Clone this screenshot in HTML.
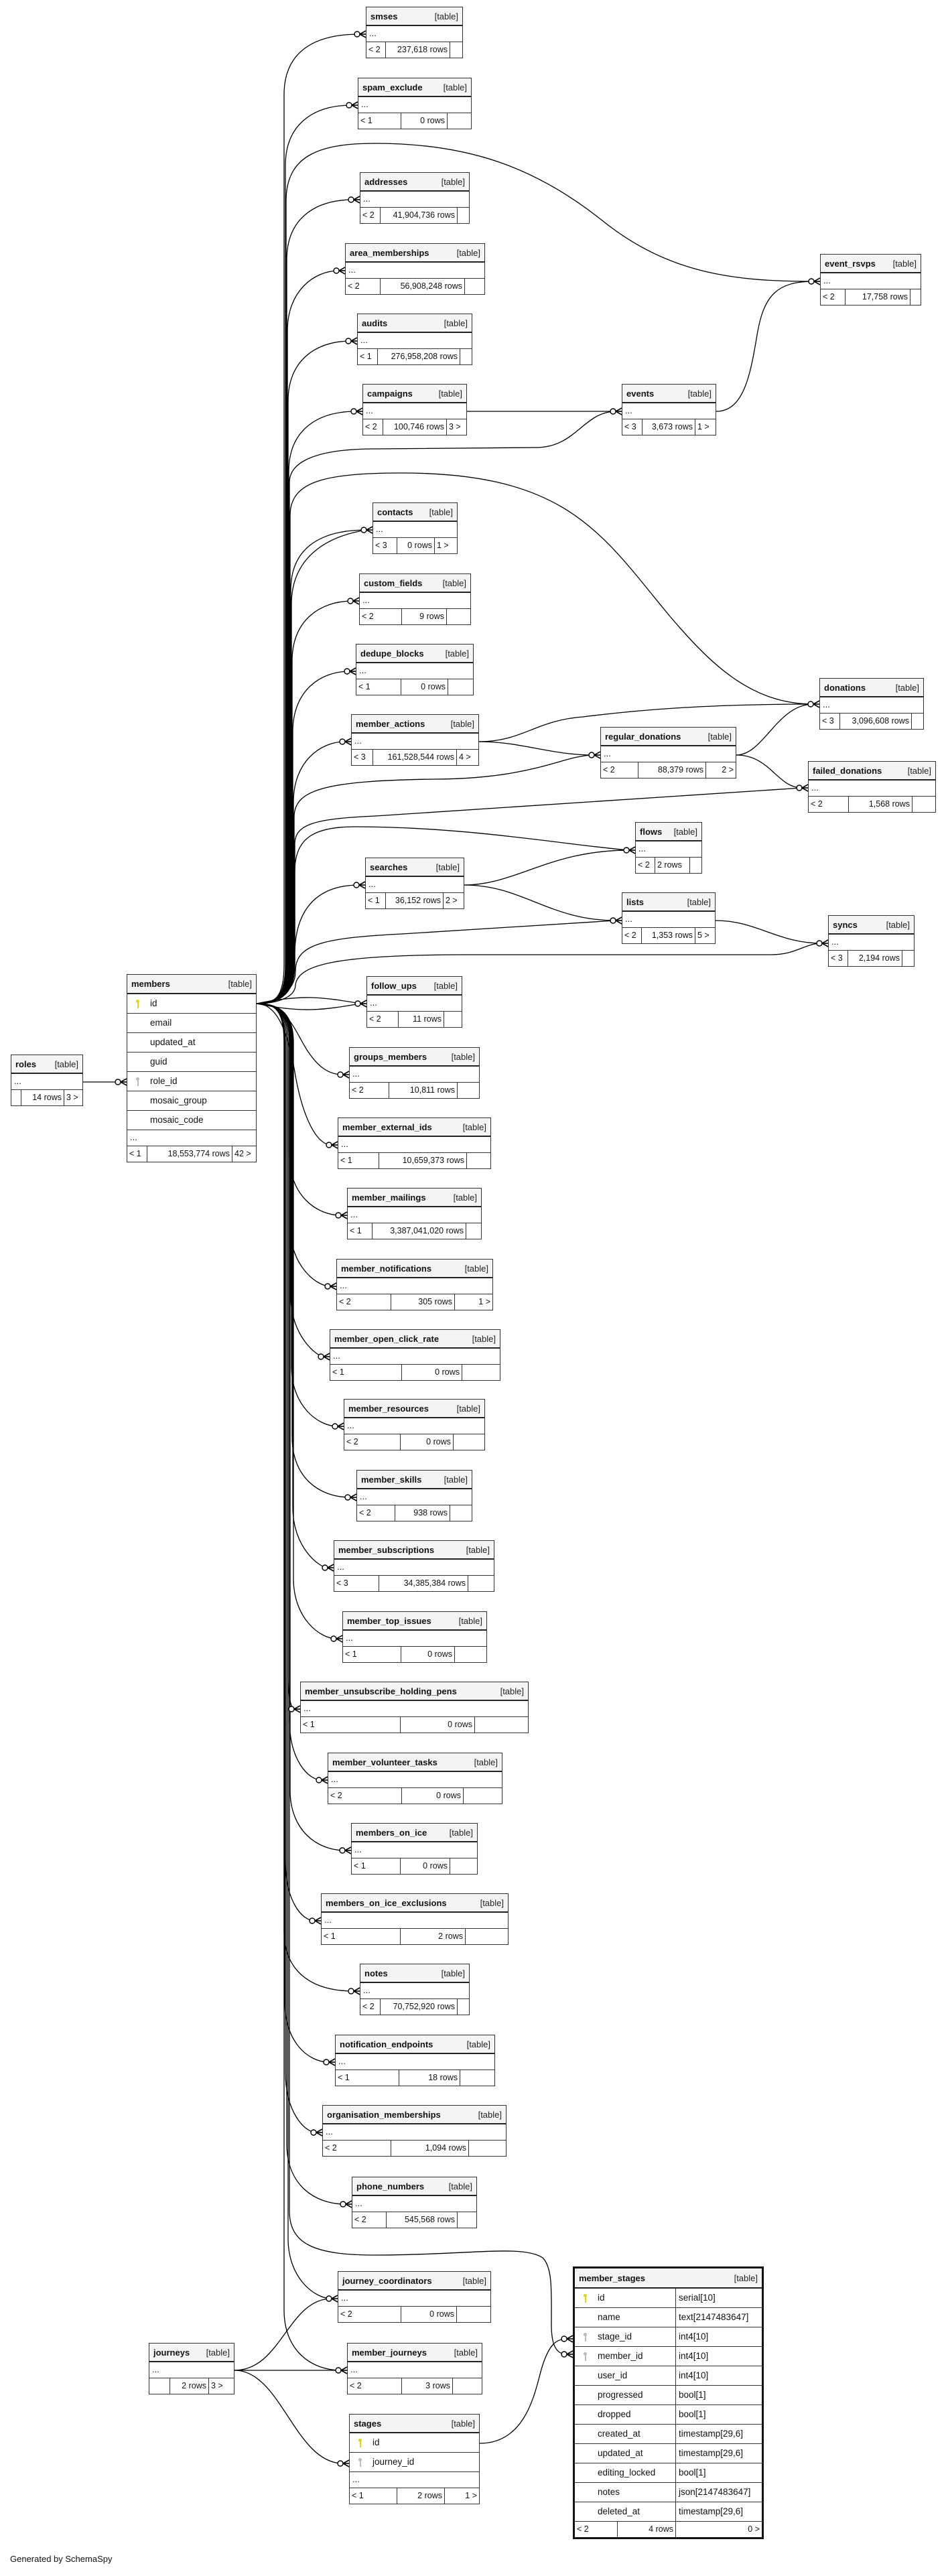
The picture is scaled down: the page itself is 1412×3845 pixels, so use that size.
<!DOCTYPE html>
<html><head><meta charset="utf-8">
<style>
body{margin:0;width:1412px;height:3845px;position:relative;background:#fff;overflow:hidden;font-family:"Liberation Sans",sans-serif;}
.t{position:absolute;border:1.5px solid #333;background:#fff;font-size:13px;box-sizing:border-box;color:#111}
.h{height:28px;background:#f4f4f4;border-bottom:2px solid #222;display:flex;justify-content:space-between;align-items:center;padding:0 6px;box-sizing:border-box;white-space:nowrap}
.h b{font-size:13px}
.h span{font-size:13px;color:#222}
.r{height:24px;border-bottom:1.5px solid #333;line-height:22px;padding-left:4px;box-sizing:border-box;white-space:nowrap}
.f{height:23px;display:flex;line-height:22px;font-size:12.5px;white-space:nowrap}
.f span{border-right:1.5px solid #333;padding:0 3px;box-sizing:border-box;flex:none}
.f span:last-child{border-right:none}
.f .m{flex:1;text-align:right}
.c{height:29px;line-height:28px;border-bottom:1.5px solid #333;box-sizing:border-box;padding-left:34px;position:relative;white-space:nowrap;font-size:13.5px}
.k{position:absolute;left:13px;top:8px;width:5px;height:5px;border-radius:50%}
.k:after{content:"";position:absolute;left:1.5px;top:4px;width:2px;height:9px}
.ky{background:#e0d800}.ky:after{background:#e0d800}
.kg{background:#bbb}.kg:after{background:#bbb}
svg{position:absolute;left:0;top:0}
</style></head><body>
<svg width="1412" height="3845" viewBox="0 0 1412 3845">
<defs><g id="cf"><line x1="-9" y1="0" x2="0" y2="-5" stroke="#000" stroke-width="1.6"/><line x1="-9" y1="0" x2="0" y2="5" stroke="#000" stroke-width="1.6"/><line x1="-9" y1="0" x2="0" y2="0" stroke="#000" stroke-width="1.6"/><circle cx="-13" cy="0" r="4" fill="#fff" stroke="#000" stroke-width="1.4"/></g></defs>
<g fill="none" stroke="#000" stroke-width="1.3">
<path d="M383,1498C410,1498 424,1490 424,1440L424,141C424,81 464,51 537,51"/>
<path d="M383,1498C410,1498 426,1490 426,1440L426,247C426,187 466,157 525,157"/>
<path d="M383,1498C410,1498 428,1490 428,1440L428,388C428,328 468,298 528,298"/>
<path d="M383,1498C410,1498 429,1490 429,1440L429,494C429,434 469,404 506,404"/>
<path d="M383,1498C410,1498 430,1490 430,1440L430,599C430,539 470,509 524,509"/>
<path d="M383,1498C410,1498 431,1490 431,1440L431,704C431,644 471,614 532,614"/>
<path d="M383,1498C410,1498 434,1490 434,1440L434,881C434,821 474,791 547,791"/>
<path d="M383,1498C410,1498 435,1490 435,1440L435,900C436,830 490,800 547,791"/>
<path d="M383,1498C410,1498 436,1490 436,1440L436,987C436,927 476,897 527,897"/>
<path d="M383,1498C410,1498 437,1490 437,1440L437,1092C437,1032 477,1002 522,1002"/>
<path d="M383,1498C410,1498 438,1490 438,1440L438,1197C438,1137 478,1107 515,1107"/>
<path d="M383,1498C420,1498 438,1470 440,1420C442,1350 480,1321 536,1321"/>
<path d="M383,1498C410,1498 427,1490 427,1440L427,300C427,230 480,214 560,214C700,214 800,250 900,330C1000,410 1100,420 1215,420"/>
<path d="M383,1498C410,1498 432,1490 432,1440L432,720C432,690 470,670 560,670L800,668C860,668 870,615 919,614"/>
<path d="M383,1498C410,1498 433,1490 433,1440L433,770C433,720 480,706 600,706C850,706 900,800 1000,920C1060,990 1120,1051 1214,1051"/>
<path d="M383,1498C410,1498 439,1490 439,1440L439,1220C439,1180 480,1165 650,1163C800,1162 840,1127 887,1127"/>
<path d="M383,1498C410,1498 440,1490 440,1440L440,1260C440,1230 470,1222 560,1218L1197,1176"/>
<path d="M383,1498C410,1498 440,1490 440,1440L440,1300C440,1250 470,1234 530,1234C700,1234 850,1262 939,1269"/>
<path d="M383,1498C410,1498 441,1480 441,1450C441,1410 480,1400 600,1394L919,1374"/>
<path d="M383,1498C410,1498 441,1490 441,1470C445,1440 500,1425 700,1425L1150,1425C1190,1425 1200,1408 1227,1408"/>
<path d="M383,1498C450,1484 480,1488 538,1498"/>
<path d="M383,1498C450,1512 480,1508 538,1498"/>
<path d="M383,1498C430,1498 440,1540 460,1570C475,1592 490,1604 512,1604"/>
<path d="M383,1498C410,1498 428,1530 440,1600C450,1660 470,1709 495,1709"/>
<path d="M383,1498C410,1498 432,1506 432,1556L432,1724C432,1784 472,1814 509,1814"/>
<path d="M383,1498C410,1498 433,1506 433,1556L433,1830C433,1890 473,1920 493,1920"/>
<path d="M383,1498C410,1498 434,1506 434,1556L434,1935C434,1995 474,2025 483,2025"/>
<path d="M383,1498C410,1498 435,1506 435,1556L435,2039C435,2099 475,2129 504,2129"/>
<path d="M383,1498C410,1498 436,1506 436,1556L436,2145C436,2205 476,2235 523,2235"/>
<path d="M383,1498C410,1498 437,1506 437,1556L437,2250C437,2310 477,2340 489,2340"/>
<path d="M383,1498C410,1498 438,1506 438,1556L438,2356C438,2416 478,2446 502,2446"/>
<path d="M383,1498C410,1498 430,1506 430,1556L430,2500C430,2535 435,2551 439,2551"/>
<path d="M383,1498C410,1498 432,1506 432,1556L432,2567C432,2627 460,2657 480,2657"/>
<path d="M383,1498C410,1498 433,1506 433,1556L433,2672C433,2732 473,2762 515,2762"/>
<path d="M383,1498C410,1498 426,1506 426,1556L426,2777C426,2837 450,2867 470,2867"/>
<path d="M383,1498C410,1498 424,1506 424,1556L424,2882C424,2942 464,2972 528,2972"/>
<path d="M383,1498C410,1498 425,1506 425,1556L425,2988C425,3048 460,3078 491,3078"/>
<path d="M383,1498C410,1498 426,1506 426,1556L426,3093C426,3153 455,3183 472,3183"/>
<path d="M383,1498C410,1498 428,1506 428,1556L428,3200C428,3260 468,3290 516,3290"/>
<path d="M383,1498C410,1498 430,1506 430,1556L430,3341C430,3401 470,3431 495,3431"/>
<path d="M383,1498C410,1498 424,1506 424,1556L424,3448C424,3508 464,3538 509,3538"/>
<path d="M383,1498C410,1498 432,1506 432,1556L432,3300C432,3350 470,3366 560,3366C700,3366 780,3350 810,3370C825,3385 823,3420 823,3470C823,3500 830,3514 846,3514"/>
<path d="M697,614L919,614"/>
<path d="M1069,614C1110,614 1120,560 1130,500C1140,440 1160,420 1215,420"/>
<path d="M715,1107C780,1107 820,1127 887,1127"/>
<path d="M715,1107C780,1107 800,1075 870,1070C950,1060 1050,1051 1214,1051"/>
<path d="M1099,1127C1140,1127 1160,1051 1214,1051"/>
<path d="M1099,1127C1150,1127 1160,1176 1197,1176"/>
<path d="M693,1321C770,1321 820,1269 939,1269"/>
<path d="M693,1321C780,1321 820,1374 919,1374"/>
<path d="M1068,1374C1130,1374 1160,1408 1227,1408"/>
<path d="M124,1615L180,1615"/>
<path d="M350,3538C420,3538 430,3431 495,3431"/>
<path d="M350,3538L509,3538"/>
<path d="M350,3538C420,3538 440,3677 512,3677"/>
<path d="M716,3647C790,3647 800,3560 810,3530C820,3500 830,3491 846,3491"/>
</g>
<use href="#cf" transform="translate(546,51)"/><use href="#cf" transform="translate(534,157)"/><use href="#cf" transform="translate(537,298)"/><use href="#cf" transform="translate(515,404)"/><use href="#cf" transform="translate(533,509)"/><use href="#cf" transform="translate(541,614)"/><use href="#cf" transform="translate(556,791)"/><use href="#cf" transform="translate(536,897)"/><use href="#cf" transform="translate(531,1002)"/><use href="#cf" transform="translate(524,1107)"/><use href="#cf" transform="translate(545,1321)"/><use href="#cf" transform="translate(547,1498)"/><use href="#cf" transform="translate(521,1604)"/><use href="#cf" transform="translate(504,1709)"/><use href="#cf" transform="translate(518,1814)"/><use href="#cf" transform="translate(502,1920)"/><use href="#cf" transform="translate(492,2025)"/><use href="#cf" transform="translate(513,2129)"/><use href="#cf" transform="translate(532,2235)"/><use href="#cf" transform="translate(498,2340)"/><use href="#cf" transform="translate(511,2446)"/><use href="#cf" transform="translate(448,2551)"/><use href="#cf" transform="translate(489,2657)"/><use href="#cf" transform="translate(524,2762)"/><use href="#cf" transform="translate(479,2867)"/><use href="#cf" transform="translate(537,2972)"/><use href="#cf" transform="translate(500,3078)"/><use href="#cf" transform="translate(481,3183)"/><use href="#cf" transform="translate(525,3290)"/><use href="#cf" transform="translate(504,3431)"/><use href="#cf" transform="translate(518,3538)"/><use href="#cf" transform="translate(928,614)"/><use href="#cf" transform="translate(1224,420)"/><use href="#cf" transform="translate(1223,1051)"/><use href="#cf" transform="translate(896,1127)"/><use href="#cf" transform="translate(1206,1176)"/><use href="#cf" transform="translate(948,1269)"/><use href="#cf" transform="translate(928,1374)"/><use href="#cf" transform="translate(1236,1408)"/><use href="#cf" transform="translate(189,1615)"/><use href="#cf" transform="translate(855,3491)"/><use href="#cf" transform="translate(855,3514)"/><use href="#cf" transform="translate(521,3677)"/>
</svg>

<div class="t" style="left:546px;top:10px;width:145px"><div class="h"><b>smses</b><span>[table]</span></div><div class="r">...</div><div class="f"><span style="width:29px">&lt; 2</span><span class="m">237,618 rows</span><span style="width:18px"></span></div></div>
<div class="t" style="left:534px;top:116px;width:170px"><div class="h"><b>spam_exclude</b><span>[table]</span></div><div class="r">...</div><div class="f"><span style="width:64px">&lt; 1</span><span class="m">0 rows</span><span style="width:35px"></span></div></div>
<div class="t" style="left:537px;top:257px;width:164px"><div class="h"><b>addresses</b><span>[table]</span></div><div class="r">...</div><div class="f"><span style="width:30px">&lt; 2</span><span class="m">41,904,736 rows</span><span style="width:17px"></span></div></div>
<div class="t" style="left:515px;top:363px;width:209px"><div class="h"><b>area_memberships</b><span>[table]</span></div><div class="r">...</div><div class="f"><span style="width:52px">&lt; 2</span><span class="m">56,908,248 rows</span><span style="width:29px"></span></div></div>
<div class="t" style="left:533px;top:468px;width:172px"><div class="h"><b>audits</b><span>[table]</span></div><div class="r">...</div><div class="f"><span style="width:30px">&lt; 1</span><span class="m">276,958,208 rows</span><span style="width:17px"></span></div></div>
<div class="t" style="left:541px;top:573px;width:156px"><div class="h"><b>campaigns</b><span>[table]</span></div><div class="r">...</div><div class="f"><span style="width:30px">&lt; 2</span><span class="m">100,746 rows</span><span style="width:29px">3 &gt;</span></div></div>
<div class="t" style="left:928px;top:573px;width:141px"><div class="h"><b>events</b><span>[table]</span></div><div class="r">...</div><div class="f"><span style="width:30px">&lt; 3</span><span class="m">3,673 rows</span><span style="width:30px">1 &gt;</span></div></div>
<div class="t" style="left:1224px;top:379px;width:151px"><div class="h"><b>event_rsvps</b><span>[table]</span></div><div class="r">...</div><div class="f"><span style="width:37px">&lt; 2</span><span class="m">17,758 rows</span><span style="width:15px"></span></div></div>
<div class="t" style="left:556px;top:750px;width:127px"><div class="h"><b>contacts</b><span>[table]</span></div><div class="r">...</div><div class="f"><span style="width:36px">&lt; 3</span><span class="m">0 rows</span><span style="width:33px">1 &gt;</span></div></div>
<div class="t" style="left:536px;top:856px;width:167px"><div class="h"><b>custom_fields</b><span>[table]</span></div><div class="r">...</div><div class="f"><span style="width:63px">&lt; 2</span><span class="m">9 rows</span><span style="width:35px"></span></div></div>
<div class="t" style="left:531px;top:961px;width:176px"><div class="h"><b>dedupe_blocks</b><span>[table]</span></div><div class="r">...</div><div class="f"><span style="width:67px">&lt; 1</span><span class="m">0 rows</span><span style="width:37px"></span></div></div>
<div class="t" style="left:524px;top:1066px;width:191px"><div class="h"><b>member_actions</b><span>[table]</span></div><div class="r">...</div><div class="f"><span style="width:32px">&lt; 3</span><span class="m">161,528,544 rows</span><span style="width:32px">4 &gt;</span></div></div>
<div class="t" style="left:896px;top:1085px;width:203px"><div class="h"><b>regular_donations</b><span>[table]</span></div><div class="r">...</div><div class="f"><span style="width:56px">&lt; 2</span><span class="m">88,379 rows</span><span style="width:44px;text-align:right">2 &gt;</span></div></div>
<div class="t" style="left:1223px;top:1012px;width:156px"><div class="h"><b>donations</b><span>[table]</span></div><div class="r">...</div><div class="f"><span style="width:30px">&lt; 3</span><span class="m">3,096,608 rows</span><span style="width:17px"></span></div></div>
<div class="t" style="left:1206px;top:1136px;width:191px"><div class="h"><b>failed_donations</b><span>[table]</span></div><div class="r">...</div><div class="f"><span style="width:60px">&lt; 2</span><span class="m">1,568 rows</span><span style="width:34px"></span></div></div>
<div class="t" style="left:948px;top:1227px;width:100px"><div class="h"><b>flows</b><span>[table]</span></div><div class="r">...</div><div class="f"><span style="width:29px">&lt; 2</span><span class="m" style="text-align:left">2 rows</span><span style="width:17px"></span></div></div>
<div class="t" style="left:545px;top:1280px;width:148px"><div class="h"><b>searches</b><span>[table]</span></div><div class="r">...</div><div class="f"><span style="width:30px">&lt; 1</span><span class="m">36,152 rows</span><span style="width:30px">2 &gt;</span></div></div>
<div class="t" style="left:928px;top:1332px;width:140px"><div class="h"><b>lists</b><span>[table]</span></div><div class="r">...</div><div class="f"><span style="width:29px">&lt; 2</span><span class="m">1,353 rows</span><span style="width:29px">5 &gt;</span></div></div>
<div class="t" style="left:1236px;top:1366px;width:129px"><div class="h"><b>syncs</b><span>[table]</span></div><div class="r">...</div><div class="f"><span style="width:29px">&lt; 3</span><span class="m">2,194 rows</span><span style="width:17px"></span></div></div>
<div class="t" style="left:547px;top:1457px;width:143px"><div class="h"><b>follow_ups</b><span>[table]</span></div><div class="r">...</div><div class="f"><span style="width:47px">&lt; 2</span><span class="m">11 rows</span><span style="width:26px"></span></div></div>
<div class="t" style="left:521px;top:1563px;width:195px"><div class="h"><b>groups_members</b><span>[table]</span></div><div class="r">...</div><div class="f"><span style="width:59px">&lt; 2</span><span class="m">10,811 rows</span><span style="width:32px"></span></div></div>
<div class="t" style="left:504px;top:1668px;width:229px"><div class="h"><b>member_external_ids</b><span>[table]</span></div><div class="r">...</div><div class="f"><span style="width:61px">&lt; 1</span><span class="m">10,659,373 rows</span><span style="width:35px"></span></div></div>
<div class="t" style="left:518px;top:1773px;width:201px"><div class="h"><b>member_mailings</b><span>[table]</span></div><div class="r">...</div><div class="f"><span style="width:37px">&lt; 1</span><span class="m">3,387,041,020 rows</span><span style="width:22px"></span></div></div>
<div class="t" style="left:502px;top:1879px;width:234px"><div class="h"><b>member_notifications</b><span>[table]</span></div><div class="r">...</div><div class="f"><span style="width:81px">&lt; 2</span><span class="m">305 rows</span><span style="width:56px;text-align:right">1 &gt;</span></div></div>
<div class="t" style="left:492px;top:1984px;width:255px"><div class="h"><b>member_open_click_rate</b><span>[table]</span></div><div class="r">...</div><div class="f"><span style="width:107px">&lt; 1</span><span class="m">0 rows</span><span style="width:56px"></span></div></div>
<div class="t" style="left:513px;top:2088px;width:211px"><div class="h"><b>member_resources</b><span>[table]</span></div><div class="r">...</div><div class="f"><span style="width:84px">&lt; 2</span><span class="m">0 rows</span><span style="width:46px"></span></div></div>
<div class="t" style="left:532px;top:2194px;width:173px"><div class="h"><b>member_skills</b><span>[table]</span></div><div class="r">...</div><div class="f"><span style="width:57px">&lt; 2</span><span class="m">938 rows</span><span style="width:32px"></span></div></div>
<div class="t" style="left:498px;top:2299px;width:240px"><div class="h"><b>member_subscriptions</b><span>[table]</span></div><div class="r">...</div><div class="f"><span style="width:67px">&lt; 3</span><span class="m">34,385,384 rows</span><span style="width:38px"></span></div></div>
<div class="t" style="left:511px;top:2405px;width:216px"><div class="h"><b>member_top_issues</b><span>[table]</span></div><div class="r">...</div><div class="f"><span style="width:87px">&lt; 1</span><span class="m">0 rows</span><span style="width:47px"></span></div></div>
<div class="t" style="left:448px;top:2510px;width:341px"><div class="h"><b>member_unsubscribe_holding_pens</b><span>[table]</span></div><div class="r">...</div><div class="f"><span style="width:149px">&lt; 1</span><span class="m">0 rows</span><span style="width:79px"></span></div></div>
<div class="t" style="left:489px;top:2616px;width:261px"><div class="h"><b>member_volunteer_tasks</b><span>[table]</span></div><div class="r">...</div><div class="f"><span style="width:110px">&lt; 2</span><span class="m">0 rows</span><span style="width:57px"></span></div></div>
<div class="t" style="left:524px;top:2721px;width:189px"><div class="h"><b>members_on_ice</b><span>[table]</span></div><div class="r">...</div><div class="f"><span style="width:73px">&lt; 1</span><span class="m">0 rows</span><span style="width:40px"></span></div></div>
<div class="t" style="left:479px;top:2826px;width:280px"><div class="h"><b>members_on_ice_exclusions</b><span>[table]</span></div><div class="r">...</div><div class="f"><span style="width:118px">&lt; 1</span><span class="m">2 rows</span><span style="width:63px"></span></div></div>
<div class="t" style="left:537px;top:2931px;width:164px"><div class="h"><b>notes</b><span>[table]</span></div><div class="r">...</div><div class="f"><span style="width:30px">&lt; 2</span><span class="m">70,752,920 rows</span><span style="width:17px"></span></div></div>
<div class="t" style="left:500px;top:3037px;width:239px"><div class="h"><b>notification_endpoints</b><span>[table]</span></div><div class="r">...</div><div class="f"><span style="width:95px">&lt; 1</span><span class="m">18 rows</span><span style="width:51px"></span></div></div>
<div class="t" style="left:481px;top:3142px;width:275px"><div class="h"><b>organisation_memberships</b><span>[table]</span></div><div class="r">...</div><div class="f"><span style="width:102px">&lt; 2</span><span class="m">1,094 rows</span><span style="width:55px"></span></div></div>
<div class="t" style="left:525px;top:3249px;width:187px"><div class="h"><b>phone_numbers</b><span>[table]</span></div><div class="r">...</div><div class="f"><span style="width:51px">&lt; 2</span><span class="m">545,568 rows</span><span style="width:28px"></span></div></div>
<div class="t" style="left:504px;top:3390px;width:229px"><div class="h"><b>journey_coordinators</b><span>[table]</span></div><div class="r">...</div><div class="f"><span style="width:94px">&lt; 2</span><span class="m">0 rows</span><span style="width:50px"></span></div></div>
<div class="t" style="left:518px;top:3497px;width:202px"><div class="h"><b>member_journeys</b><span>[table]</span></div><div class="r">...</div><div class="f"><span style="width:81px">&lt; 2</span><span class="m">3 rows</span><span style="width:43px"></span></div></div>
<div class="t" style="left:222px;top:3497px;width:128px"><div class="h"><b>journeys</b><span>[table]</span></div><div class="r">...</div><div class="f"><span style="width:31px"></span><span class="m">2 rows</span><span style="width:37px">3 &gt;</span></div></div>
<div class="t" style="left:16px;top:1574px;width:108px"><div class="h"><b>roles</b><span>[table]</span></div><div class="r">...</div><div class="f"><span style="width:15px"></span><span class="m">14 rows</span><span style="width:27px">3 &gt;</span></div></div>

<div class="t" style="left:521px;top:3603px;width:195px"><div class="h"><b>stages</b><span>[table]</span></div><div class="c"><i class="k ky"></i>id</div><div class="c"><i class="k kg"></i>journey_id</div><div class="r">...</div><div class="f"><span style="width:71px">&lt; 1</span><span class="m">2 rows</span><span style="width:51px;text-align:right">1 &gt;</span></div></div>

<div class="t" style="left:189px;top:1454px;width:194px"><div class="h" style="height:29px"><b>members</b><span>[table]</span></div>
<div class="c"><i class="k ky"></i>id</div><div class="c">email</div><div class="c">updated_at</div><div class="c">guid</div><div class="c"><i class="k kg"></i>role_id</div><div class="c">mosaic_group</div><div class="c">mosaic_code</div>
<div class="r">...</div><div class="f"><span style="width:30px">&lt; 1</span><span class="m">18,553,774 rows</span><span style="width:35px">42 &gt;</span></div></div>

<div class="t" style="left:855px;top:3383px;width:285px;border:3px solid #111"><div class="h" style="height:30px"><b>member_stages</b><span>[table]</span></div>
<div style="display:flex;flex-direction:column">
<div style="display:flex"><div class="c" style="width:151px;border-right:1.5px solid #333"><i class="k ky"></i>id</div><div class="c" style="flex:1;padding-left:4px">serial[10]</div></div>
<div style="display:flex"><div class="c" style="width:151px;border-right:1.5px solid #333">name</div><div class="c" style="flex:1;padding-left:4px">text[2147483647]</div></div>
<div style="display:flex"><div class="c" style="width:151px;border-right:1.5px solid #333"><i class="k kg"></i>stage_id</div><div class="c" style="flex:1;padding-left:4px">int4[10]</div></div>
<div style="display:flex"><div class="c" style="width:151px;border-right:1.5px solid #333"><i class="k kg"></i>member_id</div><div class="c" style="flex:1;padding-left:4px">int4[10]</div></div>
<div style="display:flex"><div class="c" style="width:151px;border-right:1.5px solid #333">user_id</div><div class="c" style="flex:1;padding-left:4px">int4[10]</div></div>
<div style="display:flex"><div class="c" style="width:151px;border-right:1.5px solid #333">progressed</div><div class="c" style="flex:1;padding-left:4px">bool[1]</div></div>
<div style="display:flex"><div class="c" style="width:151px;border-right:1.5px solid #333">dropped</div><div class="c" style="flex:1;padding-left:4px">bool[1]</div></div>
<div style="display:flex"><div class="c" style="width:151px;border-right:1.5px solid #333">created_at</div><div class="c" style="flex:1;padding-left:4px">timestamp[29,6]</div></div>
<div style="display:flex"><div class="c" style="width:151px;border-right:1.5px solid #333">updated_at</div><div class="c" style="flex:1;padding-left:4px">timestamp[29,6]</div></div>
<div style="display:flex"><div class="c" style="width:151px;border-right:1.5px solid #333">editing_locked</div><div class="c" style="flex:1;padding-left:4px">bool[1]</div></div>
<div style="display:flex"><div class="c" style="width:151px;border-right:1.5px solid #333">notes</div><div class="c" style="flex:1;padding-left:4px">json[2147483647]</div></div>
<div style="display:flex"><div class="c" style="width:151px;border-right:1.5px solid #333">deleted_at</div><div class="c" style="flex:1;padding-left:4px">timestamp[29,6]</div></div>
</div>
<div class="f"><span style="width:64px">&lt; 2</span><span style="width:87px;text-align:right">4 rows</span><span class="m">0 &gt;</span></div></div>

<div style="position:absolute;left:15px;top:3812px;font-size:13px;color:#111">Generated by SchemaSpy</div>
</body></html>
